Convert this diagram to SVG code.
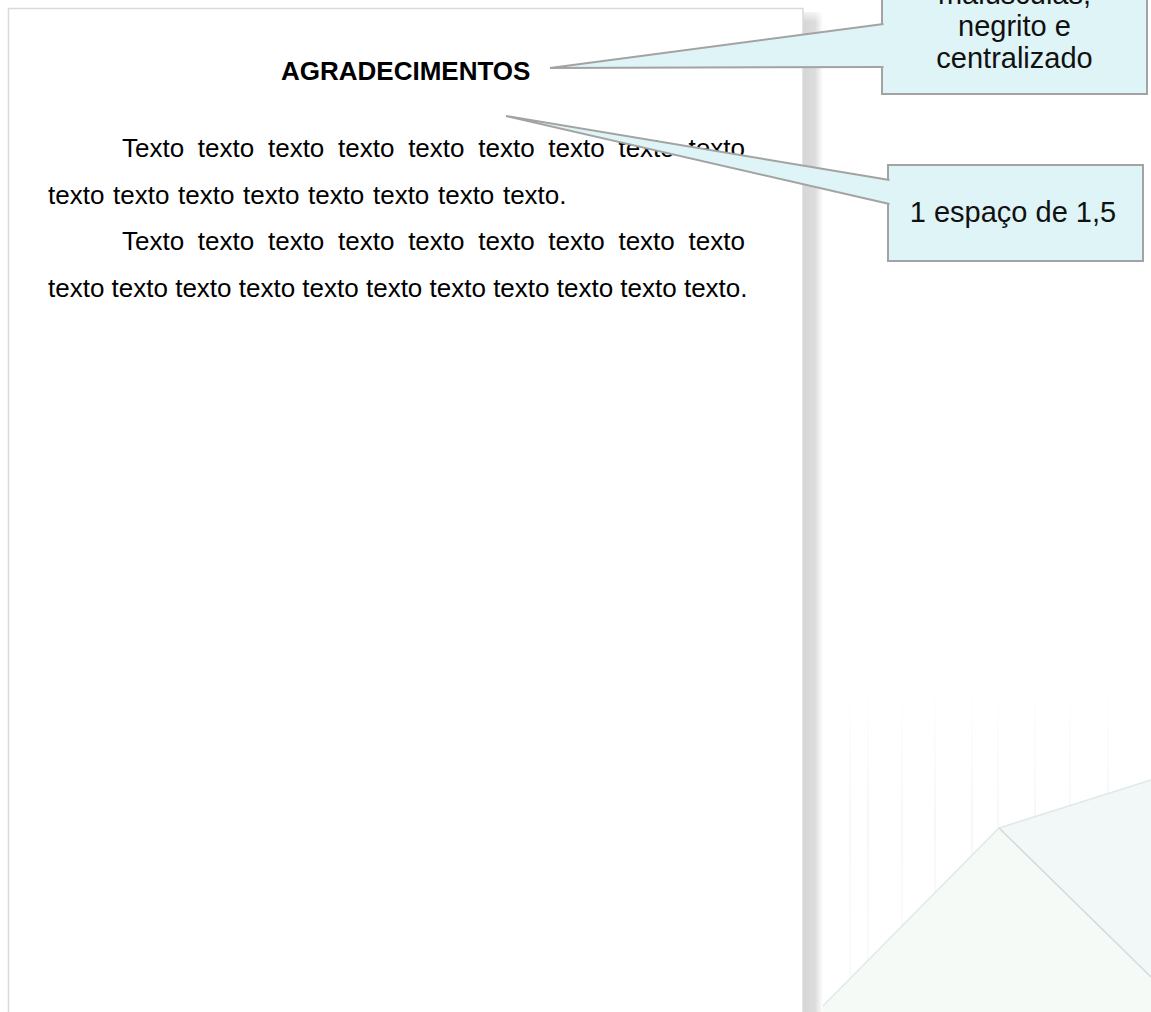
<svg xmlns="http://www.w3.org/2000/svg" width="1151" height="1012" viewBox="0 0 1151 1012">
  <defs>
    <style>
      .body { font-family: "Liberation Sans", Arial, sans-serif; font-size: 26px; fill: #000; }
      .title { font-family: "Liberation Sans", Arial, sans-serif; font-size: 26px; font-weight: bold; fill: #000; }
      .note { font-family: "Liberation Sans", Arial, sans-serif; font-size: 29px; fill: #111; text-anchor: middle; }
      .box { fill: #dff4f6; stroke: #a3a3a3; stroke-width: 2; }
      .wedge { fill: #dff4f6; stroke: #a3a3a3; stroke-width: 2; stroke-linejoin: miter; }
      .stripe { stroke: url(#stripeFade); stroke-width: 1.2; }
    </style>
    <linearGradient id="shadowFade" x1="0" y1="0" x2="1" y2="0">
      <stop offset="0" stop-color="#d6d6d6"/>
      <stop offset="0.6" stop-color="#dcdcdc"/>
      <stop offset="1" stop-color="#ffffff"/>
    </linearGradient>
    <linearGradient id="shadowTop" x1="0" y1="0" x2="0" y2="1">
      <stop offset="0" stop-color="#ffffff" stop-opacity="1"/>
      <stop offset="1" stop-color="#ffffff" stop-opacity="0"/>
    </linearGradient>
    <linearGradient id="stripeFade" gradientUnits="userSpaceOnUse" x1="0" y1="677" x2="0" y2="1012">
      <stop offset="0" stop-color="#eef1f1" stop-opacity="0"/>
      <stop offset="0.4" stop-color="#eef1f1" stop-opacity="0.8"/>
      <stop offset="1" stop-color="#eef1f1" stop-opacity="0.5"/>
    </linearGradient>
  </defs>

  <rect x="0" y="0" width="1151" height="1012" fill="#ffffff"/>

  <!-- faint backdrop artwork on the right -->
  <g id="backdrop">
    <g>
      <line class="stripe" x1="850" y1="677" x2="850" y2="1012"/>
      <line class="stripe" x1="868" y1="677" x2="868" y2="1012"/>
      <line class="stripe" x1="902" y1="677" x2="902" y2="1012"/>
      <line class="stripe" x1="935" y1="677" x2="935" y2="1012"/>
      <line class="stripe" x1="972" y1="677" x2="972" y2="1012"/>
      <line class="stripe" x1="998" y1="677" x2="998" y2="1012"/>
      <line class="stripe" x1="1035" y1="677" x2="1035" y2="1012"/>
      <line class="stripe" x1="1070" y1="677" x2="1070" y2="1012"/>
      <line class="stripe" x1="1108" y1="677" x2="1108" y2="1012"/>
    </g>
    <polygon points="999,828 1151,780 1151,977" fill="#f2f7f8"/>
    <polygon points="999,828 1151,977 1151,1012 817,1012" fill="#f6faf7"/>
    <polyline points="817,1012 999,828 1151,780" fill="none" stroke="#e0e9ea" stroke-width="1.5"/>
    <line x1="999" y1="828" x2="1151" y2="977" stroke="#cfdcde" stroke-width="1.5"/>
  </g>

  <!-- page sheet with its right-hand shadow -->
  <g id="page">
    <rect x="803" y="12" width="20" height="1000" fill="url(#shadowFade)"/>
    <rect x="803" y="8" width="20" height="14" fill="url(#shadowTop)"/>
    <rect x="8.5" y="8.5" width="794.5" height="1100" fill="#ffffff" stroke="#dadada" stroke-width="1.5"/>
  </g>

  <g id="heading">
    <text class="title" x="281" y="80">AGRADECIMENTOS</text>
  </g>

  <g id="paragraphs">
    <text class="body" x="122" y="157" word-spacing="6.5">Texto texto texto texto texto texto texto texto texto</text>
    <text class="body" x="48" y="204" word-spacing="1.4">texto texto texto texto texto texto texto texto.</text>
    <text class="body" x="122" y="250" word-spacing="6.5">Texto texto texto texto texto texto texto texto texto</text>
    <text class="body" x="48" y="297">texto texto texto texto texto texto texto texto texto texto texto.</text>
  </g>

  <g id="note-heading">
    <rect class="box" x="882" y="-30" width="265" height="124"/>
    <text class="note" x="1014.5" y="4">maiúsculas,</text>
    <text class="note" x="1014.5" y="36">negrito e</text>
    <text class="note" x="1014.5" y="68">centralizado</text>
  </g>

  <g id="note-spacing">
    <rect class="box" x="888" y="165" width="255" height="96"/>
    <text class="note" x="1013" y="222">1 espaço de 1,5</text>
  </g>

  <!-- callout pointers -->
  <g id="connectors">
    <path class="wedge" d="M 883.5,24 L 550,68 L 883.5,67"/>
    <path class="wedge" d="M 889.5,180 L 506,116 L 889.5,204"/>
  </g>
</svg>
